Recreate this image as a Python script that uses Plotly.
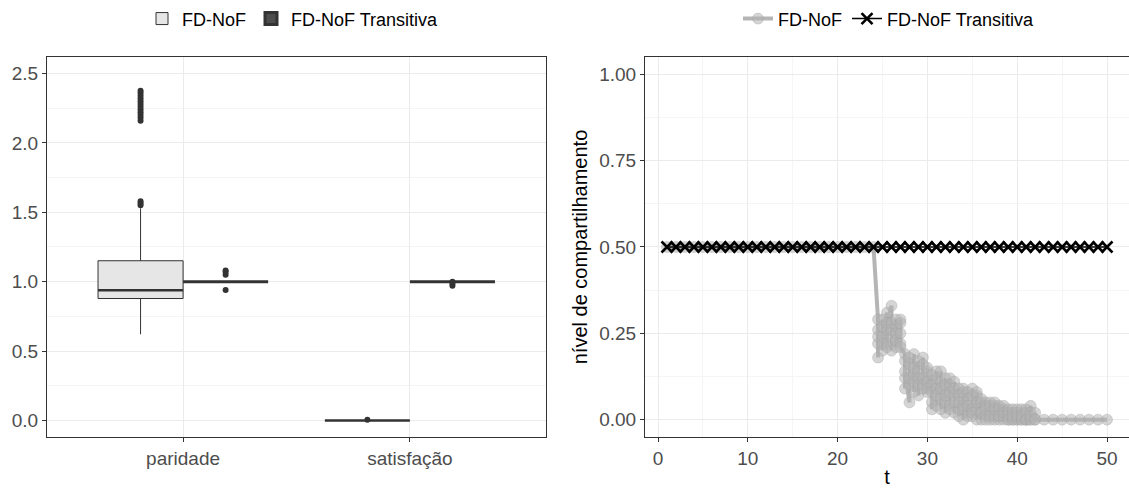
import plotly.graph_objects as go

# ---------------- data: left panel (box plots) ----------------
categories = ["paridade", "satisfação"]
cat_pos = [0, 1]
series_names = ["FD-NoF", "FD-NoF Transitiva"]

# summary stats per series, per category  [paridade, satisfação]
fd_q1 = [0.879, 0.0]
fd_median = [0.938, 0.0]
fd_q3 = [1.151, 0.0]
fd_lower = [0.621, 0.0]
fd_upper = [1.528, 0.0]
fd_outliers = [
    [1.55, 1.565, 1.58, 2.16, 2.18, 2.20, 2.22, 2.24, 2.26, 2.28, 2.30, 2.32, 2.34, 2.36, 2.375],
    [0.005],
]

tr_q1 = [1.0, 1.0]
tr_median = [1.0, 1.0]
tr_q3 = [1.0, 1.0]
tr_lower = [1.0, 1.0]
tr_upper = [1.0, 1.0]
tr_outliers = [
    [0.94, 1.05, 1.07, 1.08],
    [0.97, 0.985, 1.0],
]

# ---------------- data: right panel (lines) ----------------
fd_t_groups = [1, 2, 3, 4, 5, 6, 7, 8, 9, 10, 11, 12, 13, 14, 15, 16, 17, 18, 19, 20, 21, 22, 23, 24,
               24.5, 25.0, 25.5, 26.0, 26.5, 27.0, 27.5, 28.0, 28.5, 29.0, 29.5, 30.0, 30.5, 31.0,
               31.5, 32.0, 32.5, 33.0, 33.5, 34.0, 34.5, 35.0, 35.5, 36.0, 36.5, 37.0, 37.5, 38.0,
               38.5, 39.0, 39.5, 40.0, 40.5, 41.0, 41.5, 42.0, 43, 44, 45, 46, 47, 48, 49, 50]
fd_v_groups = [[0.5]] * 24 + [
    [0.29, 0.22, 0.26, 0.18, 0.24],
    [0.24, 0.29, 0.20, 0.27, 0.22],
    [0.31, 0.22, 0.26, 0.21, 0.28],
    [0.33, 0.24, 0.28, 0.20, 0.26],
    [0.27, 0.21, 0.29, 0.23, 0.25],
    [0.22, 0.29, 0.25, 0.28, 0.21],
    [0.19, 0.12, 0.17, 0.09, 0.14],
    [0.05, 0.16, 0.10, 0.18, 0.12],
    [0.13, 0.19, 0.08, 0.15, 0.11],
    [0.17, 0.10, 0.14, 0.07, 0.12],
    [0.12, 0.18, 0.09, 0.16, 0.10],
    [0.08, 0.15, 0.11, 0.14, 0.09],
    [0.13, 0.05, 0.10, 0.03, 0.08],
    [0.09, 0.14, 0.04, 0.12, 0.07],
    [0.11, 0.03, 0.14, 0.06, 0.09],
    [0.05, 0.12, 0.02, 0.10, 0.07],
    [0.10, 0.04, 0.12, 0.03, 0.08],
    [0.07, 0.11, 0.02, 0.09, 0.05],
    [0.09, 0.01, 0.07, 0.03, 0.05],
    [0.04, 0.09, 0.00, 0.08, 0.03],
    [0.08, 0.02, 0.06, 0.01, 0.04],
    [0.03, 0.09, 0.01, 0.07, 0.02],
    [0.07, 0.00, 0.08, 0.03, 0.05],
    [0.02, 0.06, 0.00, 0.05, 0.02],
    [0.05, 0.01, 0.04, 0.00, 0.03],
    [0.02, 0.05, 0.00, 0.04, 0.01],
    [0.04, 0.00, 0.05, 0.01, 0.03],
    [0.01, 0.04, 0.00, 0.03, 0.01],
    [0.03, 0.00, 0.04, 0.01, 0.02],
    [0.00, 0.03, 0.01, 0.02, 0.00],
    [0.03, 0.00, 0.02, 0.00, 0.01],
    [0.00, 0.03, 0.00, 0.02, 0.01],
    [0.02, 0.00, 0.03, 0.00, 0.01],
    [0.00, 0.03, 0.00, 0.02, 0.00],
    [0.04, 0.00, 0.02, 0.00, 0.01],
    [0.00, 0.02, 0.00],
] + [[0.0]] * 8

trans_t = list(range(1, 51))
trans_v = [0.50] * len(trans_t)

# ---------------- styling ----------------
FONT = "Liberation Sans, Arial, sans-serif"
TICK_COL = "#4D4D4D"
GRID = "#EBEBEB"
GRID_MINOR = "#F5F5F5"
BORDER = "#333333"
BOX_W = 0.375
FD_FILL = "#E6E6E6"
TR_FILL = "#4D4D4D"

fig = go.Figure()

# --- left panel boxes ---
for i, pos in enumerate(cat_pos):
    fig.add_trace(go.Box(
        x=[pos - BOX_W / 2], q1=[fd_q1[i]], median=[fd_median[i]], q3=[fd_q3[i]],
        lowerfence=[fd_lower[i]], upperfence=[fd_upper[i]], width=BOX_W,
        fillcolor=FD_FILL, line=dict(color=BORDER, width=1 if i == 0 else 2.5),
        name=series_names[0], legendgroup="fd", showlegend=(i == 0), legend="legend",
        xaxis="x", yaxis="y", boxpoints=False, whiskerwidth=0,
    ))
    fig.add_trace(go.Box(
        x=[pos + BOX_W / 2], q1=[tr_q1[i]], median=[tr_median[i]], q3=[tr_q3[i]],
        lowerfence=[tr_lower[i]], upperfence=[tr_upper[i]], width=BOX_W,
        fillcolor=TR_FILL, line=dict(color=BORDER, width=3),
        name=series_names[1], legendgroup="tr", showlegend=(i == 0), legend="legend",
        xaxis="x", yaxis="y", boxpoints=False, whiskerwidth=0,
    ))
    fig.add_trace(go.Scatter(
        x=[pos - BOX_W / 2] * len(fd_outliers[i]), y=fd_outliers[i], mode="markers",
        marker=dict(color=BORDER, size=6), showlegend=False, hoverinfo="skip",
        xaxis="x", yaxis="y",
    ))
    fig.add_trace(go.Scatter(
        x=[pos + BOX_W / 2] * len(tr_outliers[i]), y=tr_outliers[i], mode="markers",
        marker=dict(color=BORDER, size=6), showlegend=False, hoverinfo="skip",
        xaxis="x", yaxis="y",
    ))

# thicker median line for FD-NoF paridade (ggplot fatten)
fig.add_shape(type="line", xref="x", yref="y",
              x0=cat_pos[0] - BOX_W, x1=cat_pos[0], y0=fd_median[0], y1=fd_median[0],
              line=dict(color=BORDER, width=2.5))

# --- right panel lines ---
fd_t = []
fd_v = []
for t, vals in zip(fd_t_groups, fd_v_groups):
    for v in vals:
        fd_t.append(t)
        fd_v.append(v)

fig.add_trace(go.Scatter(
    x=fd_t, y=fd_v, mode="lines+markers", name=series_names[0],
    line=dict(color="#B5B5B5", width=4),
    marker=dict(symbol="circle", size=11, color="rgba(178,178,178,0.55)",
                line=dict(color="rgba(160,160,160,0.35)", width=1)),
    xaxis="x2", yaxis="y2", legend="legend2",
))
fig.add_trace(go.Scatter(
    x=trans_t, y=trans_v, mode="lines+markers", name=series_names[1],
    line=dict(color="black", width=1.5),
    marker=dict(symbol="x-thin", size=11, color="black", line=dict(color="black", width=2.6)),
    xaxis="x2", yaxis="y2", legend="legend2",
))

W, H = 1129, 488
top_px, bot_px = 53.5, 436.5
ydom = [(H - bot_px) / H, (H - top_px) / H]

axis_common = dict(
    showline=True, linecolor=BORDER, linewidth=1, mirror=True,
    ticks="outside", ticklen=4, tickcolor=BORDER, tickwidth=1,
    tickfont=dict(family=FONT, size=19, color=TICK_COL),
    showgrid=True, gridcolor=GRID, gridwidth=1, zeroline=False,
)

legend_common = dict(
    orientation="h", y=1 - 15 / H, yanchor="middle", xanchor="center",
    font=dict(family=FONT, size=18, color="black"), bgcolor="rgba(0,0,0,0)",
    itemwidth=30, tracegroupgap=0,
)

fig.update_layout(
    width=W, height=H,
    margin=dict(l=0, r=0, t=0, b=0),
    paper_bgcolor="white", plot_bgcolor="white",
    font=dict(family=FONT, color="black"),
    boxmode="overlay",
    xaxis=dict(domain=[47 / W, 546 / W], range=[-0.6, 1.6],
               tickvals=cat_pos, ticktext=categories, anchor="y", **axis_common),
    yaxis=dict(domain=ydom, range=[-0.118, 2.618], tickvals=[0, 0.5, 1.0, 1.5, 2.0, 2.5],
               ticktext=["0.0", "0.5", "1.0", "1.5", "2.0", "2.5"], anchor="x",
               minor=dict(showgrid=True, gridcolor=GRID_MINOR, tickvals=[0.25, 0.75, 1.25, 1.75, 2.25], ticks=""),
               **axis_common),
    xaxis2=dict(domain=[645 / W, 1.0], range=[-1.45, 52.45], tickvals=[0, 10, 20, 30, 40, 50],
                anchor="y2",
                minor=dict(showgrid=True, gridcolor=GRID_MINOR, tickvals=[5, 15, 25, 35, 45], ticks=""),
                title=dict(text="t", font=dict(family=FONT, size=20, color="black"), standoff=2),
                **axis_common),
    yaxis2=dict(domain=ydom, range=[-0.05, 1.05], tickvals=[0, 0.25, 0.5, 0.75, 1.0],
                ticktext=["0.00", "0.25", "0.50", "0.75", "1.00"], anchor="x2",
                minor=dict(showgrid=True, gridcolor=GRID_MINOR, tickvals=[0.125, 0.375, 0.625, 0.875], ticks=""),
                title=dict(text="nível de compartilhamento", font=dict(family=FONT, size=20, color="black"), standoff=6),
                **axis_common),
    legend=dict(x=293 / W, **legend_common),
    legend2=dict(x=889 / W, **legend_common),
)

fig.write_html("out.html", config={"displayModeBar": False},
               post_script="document.body.style.margin='0';document.body.style.overflow='hidden';")
